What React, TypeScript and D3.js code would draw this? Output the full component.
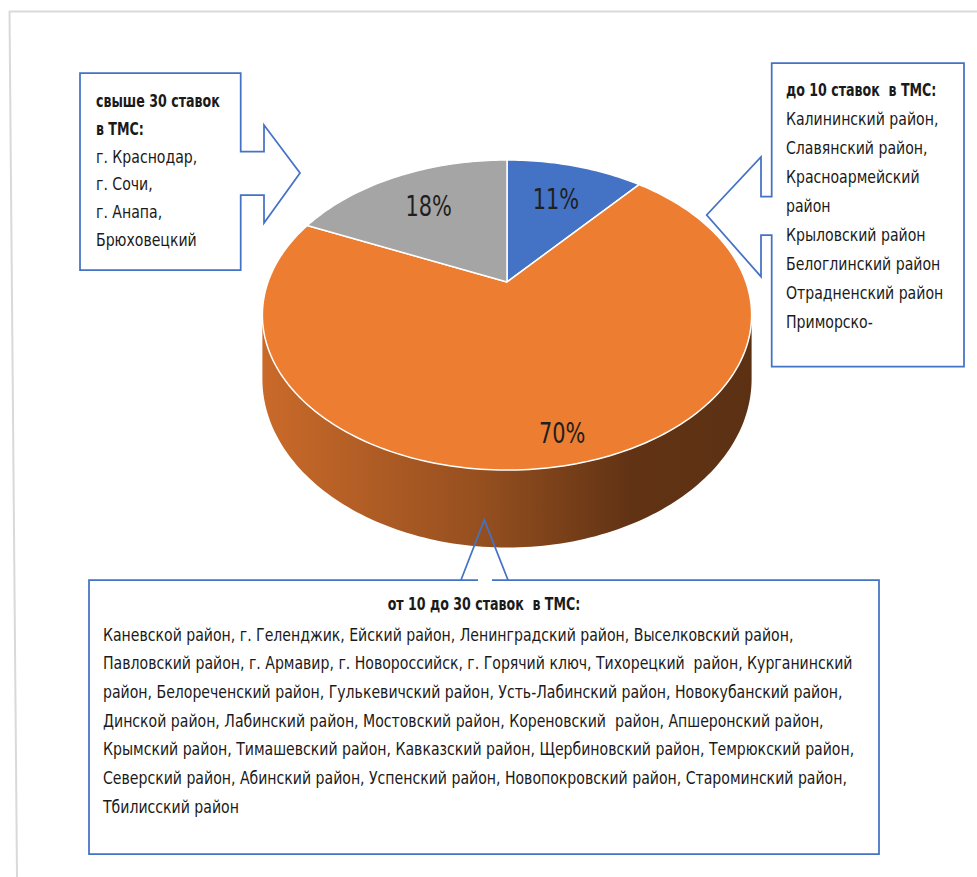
import { useMemo } from "react";
import * as d3 from "d3";

// доли групп районов
const categories = ["до 10 ставок", "от 10 до 30 ставок", "свыше 30 ставок"];
const shares = [11, 70, 18];
const labels = ["11%", "70%", "18%"];
const colors = ["#4472C4", "#ED7D31", "#A5A5A5"];

const leftTitle = ["свыше 30 ставок", "в ТМС:"];
const leftLines = ["г. Краснодар,", "г. Сочи,", "г. Анапа,", "Брюховецкий"];

const rightTitle = ["до 10 ставок  в ТМС:"];
const rightLines = [
  "Калининский район,",
  "Славянский район,",
  "Красноармейский",
  "район",
  "Крыловский район",
  "Белоглинский район",
  "Отрадненский район",
  "Приморско-",
];

const bottomTitle = "от 10 до 30 ставок  в ТМС:";
const bottomLines = [
  "Каневской район, г. Геленджик, Ейский район, Ленинградский район, Выселковский район,",
  "Павловский район, г. Армавир, г. Новороссийск, г. Горячий ключ, Тихорецкий  район, Курганинский",
  "район, Белореченский район, Гулькевичский район, Усть-Лабинский район, Новокубанский район,",
  "Динской район, Лабинский район, Мостовский район, Кореновский  район, Апшеронский район,",
  "Крымский район, Тимашевский район, Кавказский район, Щербиновский район, Темрюкский район,",
  "Северский район, Абинский район, Успенский район, Новопокровский район, Староминский район,",
  "Тбилисский район",
];

const FONT = "'Liberation Sans Narrow', 'DejaVu Sans Condensed', 'Roboto', sans-serif";
const BLUE = "#4472C4";
const TEXT = "#1a1a1a";

// geometry of the tilted pie
const W = 977;
const H = 877;
const cx = 507;
const cy = 282;
const rx = 239;
const ry = 148;
const persp = 0.213;
const depth = 61;

function project(theta: number, r: number, dz = 0): [number, number] {
  const u = r * Math.sin(theta);
  const v = -r * Math.cos(theta);
  const s = 1 / (1 - persp * v);
  return [cx + rx * u * s, cy + (ry * v + dz) * s];
}

// condensed text: the installed fonts are wider than the original one
function Txt({
  x,
  y,
  children,
  bold = false,
  size = 18,
  sx,
  anchor = "start",
  fill = TEXT,
  baseline,
}: {
  x: number;
  y: number;
  children: string;
  bold?: boolean;
  size?: number;
  sx?: number;
  anchor?: "start" | "middle" | "end";
  fill?: string;
  baseline?: "central";
}) {
  const k = sx ?? (bold ? 0.78 : 0.87);
  return (
    <text
      transform={`translate(${x},${y}) scale(${k},1)`}
      fontFamily={FONT}
      fontSize={size}
      fontWeight={bold ? "bold" : "normal"}
      textAnchor={anchor}
      dominantBaseline={baseline}
      fill={fill}
      xmlSpace="preserve"
    >
      {children}
    </text>
  );
}

export default function App() {
  const arcs = useMemo(
    () =>
      d3
        .pie<number>()
        .sort(null)
        .value((d) => d)(shares),
    []
  );

  const line = d3.line<[number, number]>();

  const sampleArc = (a0: number, a1: number, r: number, dz: number) => {
    const n = Math.max(2, Math.ceil(Math.abs(a1 - a0) / 0.02));
    return d3.range(n + 1).map((i) => project(a0 + ((a1 - a0) * i) / n, r, dz));
  };

  // visible front of the wall lies between the two silhouette angles
  const thR = Math.acos(-persp);
  const thL = 2 * Math.PI - thR;

  const sides = arcs
    .map((a, i) => {
      const a0 = Math.max(a.startAngle, thR);
      const a1 = Math.min(a.endAngle, thL);
      if (a1 <= a0) return null;
      const top = sampleArc(a0, a1, 1, 0);
      const bottom = sampleArc(a1, a0, 1, depth);
      return { i, d: line([...top, ...bottom])! + "Z" };
    })
    .filter((d): d is { i: number; d: string } => d !== null);

  const tops = arcs.map((a, i) => {
    const pts = [project(0, 0), ...sampleArc(a.startAngle, a.endAngle, 1, 0)];
    return { i, d: line(pts)! + "Z" };
  });

  const labelPos = arcs.map((a) => {
    const mid = (a.startAngle + a.endAngle) / 2;
    const r = a.data > 50 ? 0.86 : 0.68;
    return project(mid, r);
  });

  const xl = cx - rx * 1.03;
  const xr = cx + rx * 1.03;

  return (
    <svg
      width={W}
      height={H}
      viewBox={`0 0 ${W} ${H}`}
      style={{ position: "absolute", left: 0, top: 0, background: "#fff" }}
    >
      <defs>
        {colors.map((c, i) => (
          <linearGradient
            key={i}
            id={`side-${i}`}
            gradientUnits="userSpaceOnUse"
            x1={xl}
            x2={xr}
            y1={0}
            y2={0}
          >
            <stop offset="0" stopColor={d3.color(c)!.darker(0.45).formatHex()} />
            <stop offset="0.45" stopColor={d3.color(c)!.darker(1.3).formatHex()} />
            <stop offset="0.75" stopColor={d3.color(c)!.darker(2.5).formatHex()} />
            <stop offset="1" stopColor={d3.color(c)!.darker(2.65).formatHex()} />
          </linearGradient>
        ))}
      </defs>

      {/* frame */}
      <line x1={9} y1={11.5} x2={W} y2={11.5} stroke="#d9d9d9" strokeWidth={2} />
      <line x1={9.5} y1={11} x2={17} y2={H} stroke="#d9d9d9" strokeWidth={2} />

      {/* pie wall */}
      {sides.map((s) => (
        <path key={`s-${s.i}`} d={s.d} fill={`url(#side-${s.i})`} />
      ))}
      {/* pie top */}
      {tops.map((t) => (
        <path
          key={`t-${t.i}`}
          d={t.d}
          fill={colors[t.i]}
          stroke="#fff"
          strokeWidth={1.5}
          strokeLinejoin="round"
        />
      ))}
      {arcs.map((a, i) => (
        <Txt
          key={`l-${i}`}
          x={labelPos[i][0]}
          y={labelPos[i][1]}
          anchor="middle"
          baseline="central"
          size={29}
          sx={0.8}
          fill="#1f1f1f"
        >
          {labels[i]}
        </Txt>
      ))}

      {/* callouts */}
      <g fill="none" stroke={BLUE} strokeWidth={1.75} strokeLinejoin="miter">
        <path d="M80,73H240.7V151.7H264V125L300,173L264,223V195H240.7V270H80Z" />
        <path d="M771.7,63H964V366.7H771.7V235H761V276.7L706.7,215L761,157V196.7H771.7Z" />
        <path d="M89,580H478H461L484.3,520L508,580H492H879V854H89Z" />
      </g>

      {leftTitle.map((t, i) => (
        <Txt key={`lt-${i}`} x={96} y={107 + i * 27.8} bold>
          {t}
        </Txt>
      ))}
      {leftLines.map((t, i) => (
        <Txt key={`ll-${i}`} x={96} y={107 + (i + leftTitle.length) * 27.8}>
          {t}
        </Txt>
      ))}

      {rightTitle.map((t, i) => (
        <Txt key={`rt-${i}`} x={786} y={95.5 + i * 29} bold>
          {t}
        </Txt>
      ))}
      {rightLines.map((t, i) => (
        <Txt key={`rl-${i}`} x={786} y={95.5 + (i + rightTitle.length) * 29}>
          {t}
        </Txt>
      ))}

      <Txt x={484} y={610} anchor="middle" bold>
        {bottomTitle}
      </Txt>
      {bottomLines.map((t, i) => (
        <Txt key={`bl-${i}`} x={103} y={640.5 + i * 28.7}>
          {t}
        </Txt>
      ))}
      <title>{categories.join(", ")}</title>
    </svg>
  );
}
